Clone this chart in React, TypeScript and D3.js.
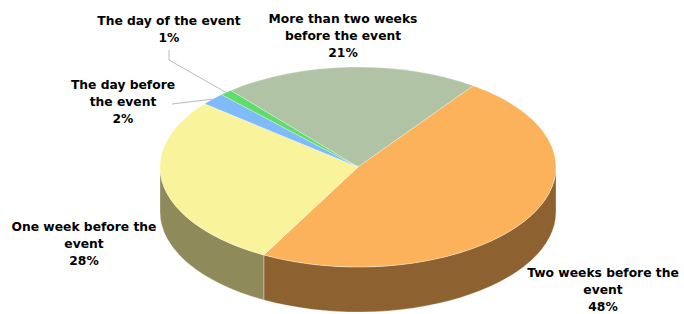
import { useMemo } from "react";
import { pie as d3Pie } from "d3";

// categories in clockwise order, starting from the back of the pie
const categories = [
  "More than two weeks before the event",
  "Two weeks before the event",
  "One week before the event",
  "The day before the event",
  "The day of the event",
];
const values = [21, 48, 28, 2, 1];
const labelLines = [
  ["More than two weeks", "before the event", "21%"],
  ["Two weeks before the", "event", "48%"],
  ["One week before the", "event", "28%"],
  ["The day before", "the event", "2%"],
  ["The day of the event", "1%"],
];

const topColors = ["#B0C4A5", "#FBB25B", "#F9F39C", "#7FBBF9", "#5FDC6B"];
const sideColors = ["#6F7F66", "#8E6130", "#8F8A5A", "#4C77A6", "#3A8F44"];

const WIDTH = 684;
const HEIGHT = 314;
const CX = 358;
const CY = 167;
const RX = 198;
const RY = 100;
const DEPTH = 45;
const START = (-40 * Math.PI) / 180;
const LINE_H = 17;

// label placement (centre x, first baseline) and optional leader line
const LABEL_POS: Record<string, { x: number; y: number; leader?: [number, number][] }> = {
  "More than two weeks before the event": { x: 343, y: 23 },
  "Two weeks before the event": { x: 603, y: 277 },
  "One week before the event": { x: 84, y: 231 },
  "The day before the event": { x: 123, y: 89, leader: [[172, 104]] },
  "The day of the event": { x: 169, y: 25, leader: [[169, 50], [169, 60]] },
};

function pt(a: number, r = 1, dy = 0): [number, number] {
  return [CX + RX * r * Math.sin(a), CY + dy - RY * r * Math.cos(a)];
}

export default function App() {
  const arcs = useMemo(
    () =>
      d3Pie<number>()
        .sort(null)
        .startAngle(START)
        .endAngle(START + 2 * Math.PI)(values),
    []
  );

  const tops = arcs.map((a) => {
    const [x0, y0] = pt(a.startAngle);
    const [x1, y1] = pt(a.endAngle);
    const large = a.endAngle - a.startAngle > Math.PI ? 1 : 0;
    return `M${CX},${CY}L${x0},${y0}A${RX},${RY} 0 ${large} 1 ${x1},${y1}Z`;
  });

  const sides = arcs.map((a) => {
    const b0 = Math.max(a.startAngle, Math.PI / 2);
    const b1 = Math.min(a.endAngle, (3 * Math.PI) / 2);
    if (b1 <= b0) return null;
    const [x0, y0] = pt(b0);
    const [x1, y1] = pt(b1);
    const [bx0, by0] = pt(b0, 1, DEPTH);
    const [bx1, by1] = pt(b1, 1, DEPTH);
    return `M${x0},${y0}A${RX},${RY} 0 0 1 ${x1},${y1}L${bx1},${by1}A${RX},${RY} 0 0 0 ${bx0},${by0}Z`;
  });

  return (
    <svg width={WIDTH} height={HEIGHT} style={{ position: "absolute", left: 0, top: 0 }}>
      <rect width={WIDTH} height={HEIGHT} fill="#ffffff" />
      {sides.map((d, i) =>
        d ? <path key={"s" + i} d={d} fill={sideColors[i]} stroke="#ffffff" strokeOpacity={0.5} strokeWidth={0.6} /> : null
      )}
      {tops.map((d, i) => (
        <path key={"t" + i} d={d} fill={topColors[i]} stroke="#ffffff" strokeOpacity={0.5} strokeWidth={0.6} />
      ))}
      {arcs.map((a, i) => {
        const pos = LABEL_POS[categories[i]];
        if (!pos.leader) return null;
        const mid = (a.startAngle + a.endAngle) / 2;
        const end = pt(mid, 1.0);
        const pts = [...pos.leader, end].map((p) => p.join(",")).join(" ");
        return <polyline key={"l" + i} points={pts} fill="none" stroke="#A6A6A6" strokeWidth={0.8} />;
      })}
      {categories.map((c, i) => {
        const pos = LABEL_POS[c];
        return (
          <text
            key={"x" + i}
            x={pos.x}
            y={pos.y}
            textAnchor="middle"
            fontFamily="DejaVu Sans, sans-serif"
            fontWeight="bold"
            fontSize={12.3}
            fill="#000000"
          >
            {labelLines[i].map((line, j) => (
              <tspan key={j} x={pos.x} y={pos.y + j * LINE_H}>
                {line}
              </tspan>
            ))}
          </text>
        );
      })}
    </svg>
  );
}
